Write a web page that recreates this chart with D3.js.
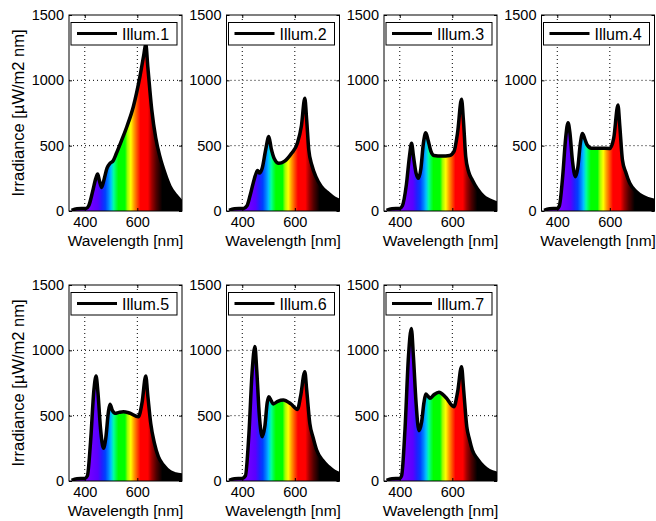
<!DOCTYPE html>
<html>
<head>
<meta charset="utf-8">
<script src="https://cdn.jsdelivr.net/npm/d3@7"></script>
<style>
  body { margin: 0; background: #fff; }
  svg { display: block; }
  text { font-family: "Liberation Sans", Arial, sans-serif; fill: #000; }
</style>
</head>
<body>
<script>
// spectra: [wavelength nm, irradiance uW/m2 nm]
var illum1 = [[350,5],[370,18],[405,20],[415,40],[430,150],[442,250],[449,283],[456,230],[464,180],[472,230],[485,330],[496,365],[508,385],[520,440],[540,540],[560,645],[585,800],[610,1030],[625,1200],[632,1280],[640,1100],[655,773],[670,560],[686,415],[705,290],[724,190],[745,125],[770,70]];
var illum2 = [[350,5],[370,18],[405,20],[418,40],[430,120],[445,240],[458,310],[466,290],[476,330],[490,480],[501,570],[510,480],[522,400],[539,365],[560,380],[587,440],[610,520],[625,650],[638,862],[645,700],[653,470],[665,350],[680,263],[700,190],[728,135],[750,100],[770,80]];
var illum3 = [[350,5],[370,18],[400,20],[410,40],[425,200],[437,420],[445,518],[452,420],[462,290],[471,250],[480,320],[490,520],[499,599],[508,540],[518,460],[530,425],[560,420],[590,425],[606,454],[620,600],[635,855],[642,700],[651,416],[662,300],[676,237],[695,170],[720,110],[740,85],[770,60]];
var illum4 = [[350,5],[370,18],[400,20],[408,40],[420,250],[432,560],[441,676],[448,600],[458,380],[469,263],[478,330],[488,520],[496,594],[505,550],[514,505],[530,480],[560,480],[600,479],[615,560],[631,811],[638,650],[648,390],[660,300],[676,212],[700,150],[727,110],[745,95],[770,80]];
var illum5 = [[350,5],[370,18],[400,20],[410,40],[422,300],[435,700],[443,803],[450,680],[460,400],[471,250],[480,330],[490,530],[496,587],[505,540],[515,518],[530,525],[547,530],[570,520],[604,492],[618,600],[632,803],[640,650],[651,441],[665,290],[680,186],[700,120],[725,71],[745,55],[770,45]];
var illum6 = [[350,5],[370,18],[400,20],[412,40],[425,350],[438,850],[448,1030],[455,850],[465,500],[476,339],[486,420],[495,600],[501,645],[510,615],[518,590],[535,610],[556,620],[585,590],[610,548],[622,650],[638,837],[645,700],[657,441],[670,330],[683,237],[705,160],[728,110],[750,75],[770,55]];
var illum7 = [[350,5],[370,18],[400,20],[407,40],[420,400],[433,950],[444,1168],[452,950],[462,600],[473,385],[483,450],[492,600],[499,666],[507,650],[515,633],[530,660],[549,679],[575,640],[606,569],[620,680],[635,875],[643,700],[655,416],[665,320],[676,237],[695,170],[720,110],[740,80],[770,59]];

var names = ['Illum.1', 'Illum.2', 'Illum.3', 'Illum.4', 'Illum.5', 'Illum.6', 'Illum.7'];
var series = [illum1, illum2, illum3, illum4, illum5, illum6, illum7];

var xTicks = [400, 600];
var yTicks = [0, 500, 1000, 1500];

// colour of the fill along the wavelength axis
var specNm    = [400, 450, 465, 478, 490, 500, 510, 520, 528, 553, 563, 575, 587, 599, 612, 640, 655, 672, 695];
var specColor = ['#8000ff', '#5a00ff', '#2020ff', '#0040ff', '#0080ff', '#00c0ff', '#00ffa0', '#00ff40', '#00ff00', '#00ff00', '#a0ff00', '#ffff00', '#ffa000', '#ff5000', '#ff0000', '#ff0000', '#a00000', '#500000', '#000000'];

var W = 656, H = 521;
var pw = 113, ph = 196;
var left0 = 69, colStep = 157.5;
var rowTops = [15, 285];

var x = d3.scaleLinear().domain([340, 770]).range([0, pw]);
var y = d3.scaleLinear().domain([0, 1500]).range([ph, 0]);

var svg = d3.select('body').append('svg')
    .attr('width', W)
    .attr('height', H);

var defs = svg.append('defs');

var grad = defs.append('linearGradient')
    .attr('id', 'spectrum')
    .attr('gradientUnits', 'userSpaceOnUse')
    .attr('x1', x(specNm[0])).attr('y1', 0)
    .attr('x2', x(specNm[specNm.length - 1])).attr('y2', 0);
grad.selectAll('stop')
    .data(specNm)
    .enter().append('stop')
    .attr('offset', function(d) { return (d - specNm[0]) / (specNm[specNm.length - 1] - specNm[0]); })
    .attr('stop-color', function(d, i) { return specColor[i]; });

defs.append('clipPath').attr('id', 'plotclip')
  .append('rect').attr('x', 0).attr('y', 0).attr('width', pw).attr('height', ph);

var area = d3.area()
    .x(function(d) { return x(d[0]); })
    .y0(y(0))
    .y1(function(d) { return y(d[1]); })
    .curve(d3.curveMonotoneX);

var line = d3.line()
    .x(function(d) { return x(d[0]); })
    .y(function(d) { return y(d[1]); })
    .curve(d3.curveMonotoneX);

series.forEach(function(data, i) {
  var col = i % 4, row = Math.floor(i / 4);
  var g = svg.append('g')
      .attr('transform', 'translate(' + (left0 + col * colStep) + ',' + rowTops[row] + ')');

  // dotted grid
  g.selectAll('.gx').data(xTicks).enter().append('line')
      .attr('x1', function(d) { return x(d); }).attr('x2', function(d) { return x(d); })
      .attr('y1', 0).attr('y2', ph)
      .attr('stroke', '#000').attr('stroke-width', 1).attr('stroke-dasharray', '1,3');
  g.selectAll('.gy').data([500, 1000]).enter().append('line')
      .attr('x1', 0).attr('x2', pw)
      .attr('y1', function(d) { return y(d); }).attr('y2', function(d) { return y(d); })
      .attr('stroke', '#000').attr('stroke-width', 1).attr('stroke-dasharray', '1,3');

  var plot = g.append('g').attr('clip-path', 'url(#plotclip)');
  plot.append('path')
      .attr('d', area(data))
      .attr('fill', 'url(#spectrum)');
  plot.append('path')
      .attr('d', line(data))
      .attr('fill', 'none')
      .attr('stroke', '#000')
      .attr('stroke-width', 3.5)
      .attr('stroke-linejoin', 'round');

  // axes, ticks pointing inward
  var ax = [
    d3.axisBottom(x).tickValues(xTicks).tickSize(-3).tickPadding(6).tickFormat(d3.format('d')),
    d3.axisTop(x).tickValues(xTicks).tickSize(-3).tickFormat(''),
    d3.axisLeft(y).tickValues(yTicks).tickSize(-3).tickPadding(5).tickFormat(d3.format('d')),
    d3.axisRight(y).tickValues(yTicks).tickSize(-3).tickFormat('')
  ];
  var pos = ['translate(0,' + ph + ')', null, null, 'translate(' + pw + ',0)'];
  ax.forEach(function(a, k) {
    var ag = g.append('g').attr('transform', pos[k]).call(a);
    ag.select('.domain').remove();
    ag.selectAll('.tick line').attr('stroke', '#000');
    ag.selectAll('text').attr('font-size', 14.5).style('font-family', '"Liberation Sans", Arial, sans-serif');
  });

  g.append('rect')
      .attr('width', pw).attr('height', ph)
      .attr('fill', 'none').attr('stroke', '#000').attr('stroke-width', 1);

  g.append('text')
      .attr('x', pw / 2)
      .attr('y', ph + 35)
      .attr('font-size', 15.5)
      .style('text-anchor', 'middle')
      .text('Wavelength [nm]');

  if (col === 0) {
    g.append('text')
        .attr('transform', 'translate(-45,' + (ph / 2) + ') rotate(-90)')
        .attr('font-size', 16.5)
        .style('text-anchor', 'middle')
        .text('Irradiance [\u00b5W/m2 nm]');
  }

  // legend
  var lg = g.append('g').attr('transform', 'translate(2,7.5)');
  lg.append('rect')
      .attr('width', 106).attr('height', 22.5)
      .attr('fill', '#fff').attr('stroke', '#000').attr('stroke-width', 1);
  lg.append('line')
      .attr('x1', 6).attr('x2', 46).attr('y1', 11).attr('y2', 11)
      .attr('stroke', '#000').attr('stroke-width', 3);
  lg.append('text')
      .attr('x', 51).attr('y', 17)
      .attr('font-size', 16)
      .text(names[i]);
});
</script>
</body>
</html>
